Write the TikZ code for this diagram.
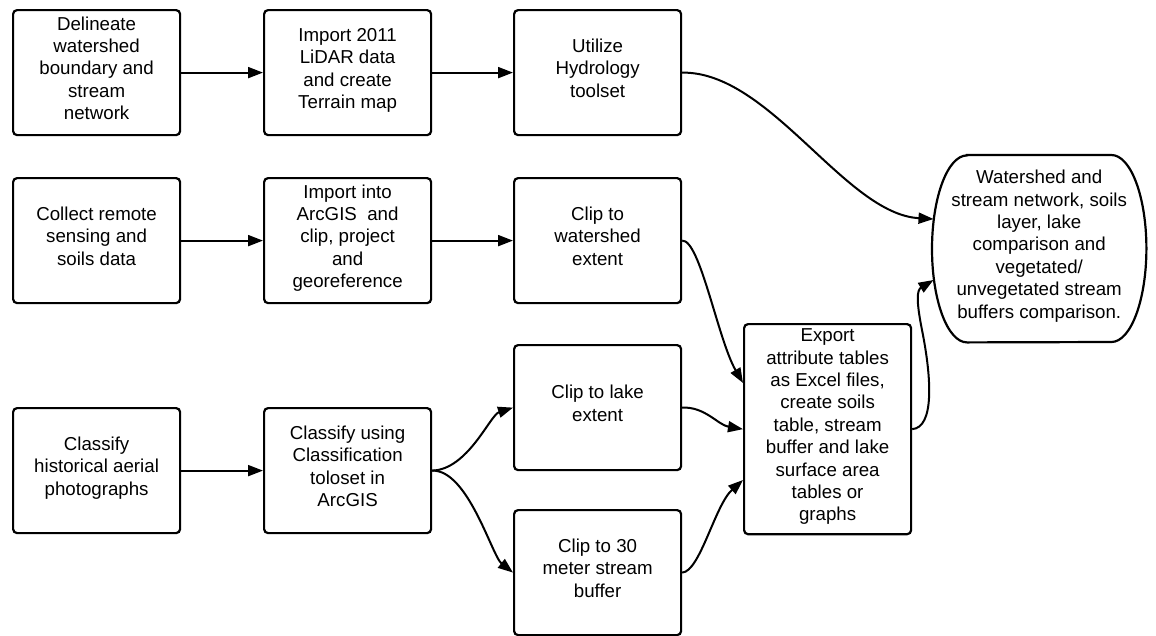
\documentclass[tikz,border=0pt]{standalone}
\usepackage{fontspec}
\setmainfont{Liberation Sans}
\usetikzlibrary{arrows.meta}
\newcommand\boxlines[1]{\raisebox{0pt}[\height][\dimexpr\depth+4.5pt\relax]{\begin{tabular}{@{}c@{}}#1\end{tabular}}}
\begin{document}
\begin{tikzpicture}[x=1pt,y=-1pt,
  txt/.style={font=\fontsize{18.7pt}{22.4pt}\selectfont, align=center},
  box/.style={txt, draw, line width=2.2pt, rounded corners=4pt, minimum width=167pt, minimum height=125pt, inner sep=2pt, anchor=north west},
  conn/.style={line width=2pt, -{Triangle[length=15pt,width=11pt]}}]
\useasboundingbox (0,0) rectangle (1156,635);

\node[box] (a1) at (12,9) {\boxlines{Delineate\\watershed\\boundary and\\stream\\network}};
\node[box] (a2) at (263,9) {\boxlines{Import 2011\\LiDAR data\\and create\\Terrain map}};
\node[box] (a3) at (513,9) {\boxlines{Utilize\\Hydrology\\toolset}};
\node[box] (b1) at (12,177) {\boxlines{Collect remote\\sensing and\\soils data}};
\node[box] (b2) at (263,177) {\boxlines{Import into\\ArcGIS\ \ and\\clip, project\\and\\georeference}};
\node[box] (b3) at (513,177) {\boxlines{Clip to\\watershed\\extent}};
\node[box] (c1) at (12,407) {\boxlines{Classify\\historical aerial\\photographs}};
\node[box] (c2) at (263,407) {\boxlines{Classify using\\Classification\\toloset in\\ArcGIS}};
\node[box] (d1) at (513,344) {\boxlines{Clip to lake\\extent}};
\node[box] (d2) at (513,509) {\boxlines{Clip to 30\\meter stream\\buffer}};
\node[box, minimum height=209pt] (e) at (743,323) {\boxlines{Export\\attribute tables\\as Excel files,\\create soils\\table, stream\\buffer and lake\\surface area\\tables or\\graphs}};

\node[txt, anchor=north west, minimum width=214pt, minimum height=187pt, inner sep=0pt] (f) at (932,155) {\boxlines{Watershed and\\stream network, soils\\layer, lake\\comparison and\\vegetated/\\unvegetated stream\\buffers comparison.}};
\draw[line width=2.2pt] ([xshift=35pt]f.north west) -- ([xshift=-35pt]f.north east)
  arc[start angle=90, end angle=-90, x radius=35pt, y radius=93.5pt]
  -- ([xshift=35pt]f.south west)
  arc[start angle=270, end angle=90, x radius=35pt, y radius=93.5pt] -- cycle;

\coordinate (fin1) at (933.5,219);
\coordinate (fin2) at (933.5,280);
\coordinate (ein1) at (743,383);
\coordinate (ein3) at (743,480);

\draw[conn] (a1) -- (a2);
\draw[conn] (a2) -- (a3);
\draw[conn] (b1) -- (b2);
\draw[conn] (b2) -- (b3);
\draw[conn] (c1) -- (c2);

\draw[conn] (a3.east) .. controls (770,71.5) and (845,214) .. (fin1);
\draw[conn] (b3.east) .. controls (700,239.5) and (718,340) .. (ein1);
\draw[conn] (c2.east) .. controls (468,469.5) and (490,415) .. (d1.west);
\draw[conn] (c2.east) .. controls (468,469.5) and (492,556) .. (d2.west);
\draw[conn] (d1.east) .. controls (705,406.5) and (718,425) .. (e.west);
\draw[conn] (d2.east) .. controls (700,571.5) and (715,505) .. (ein3);
\draw[conn] (e.east) .. controls (934,427.5) and (932,380) .. (922,330)
  .. controls (916,300) and (917,290) .. (fin2);
\end{tikzpicture}
\end{document}
